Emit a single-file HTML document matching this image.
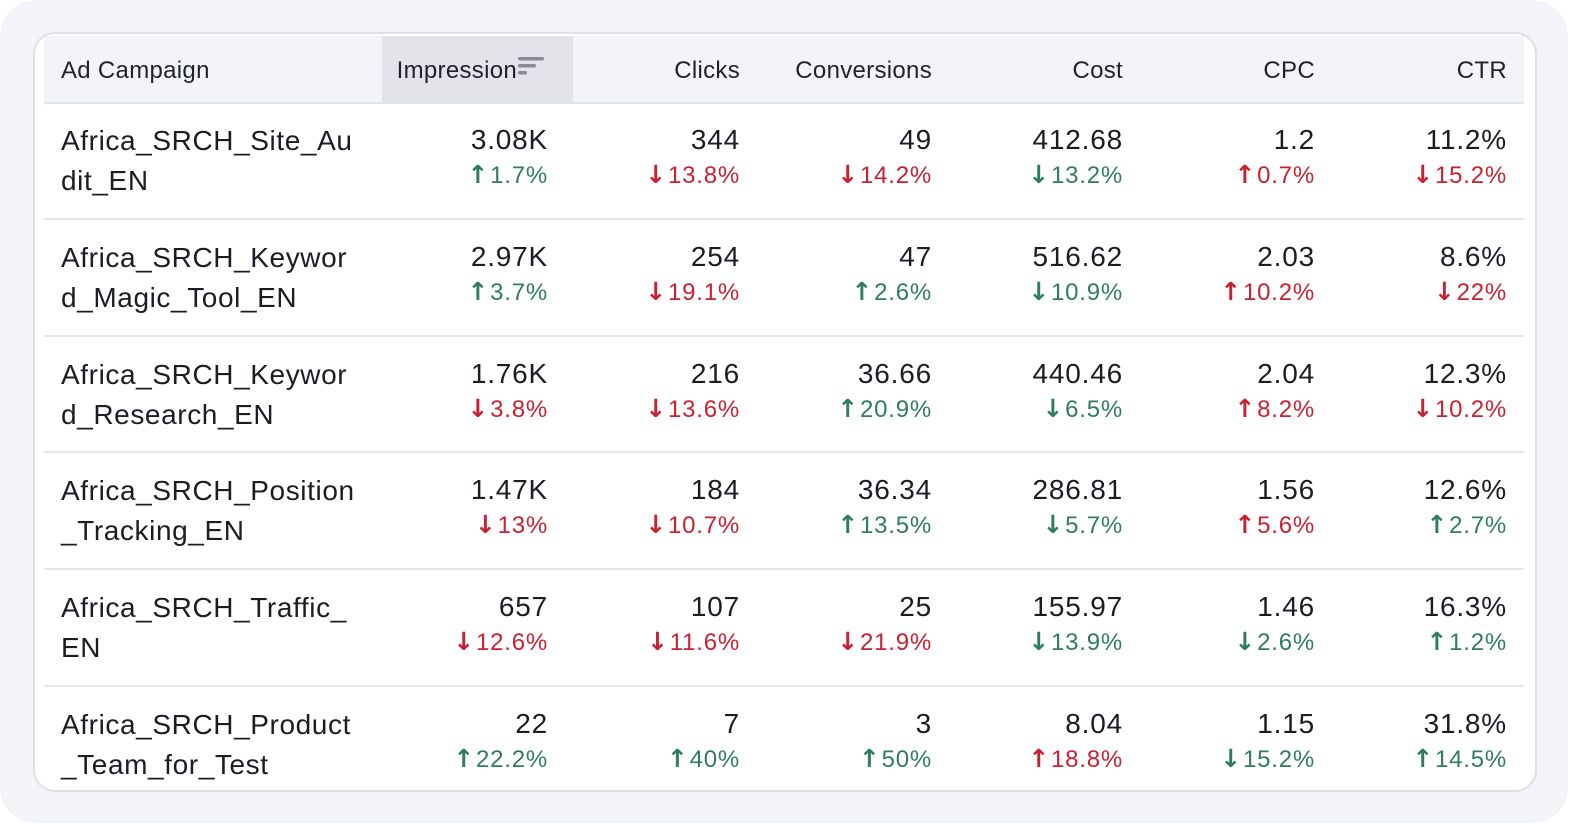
<!DOCTYPE html>
<html><head><meta charset="utf-8"><style>
html,body{margin:0;padding:0;background:#fff;}
body{width:1592px;height:836px;position:relative;overflow:hidden;font-family:"Liberation Sans",sans-serif;}
#outer{position:absolute;left:0;top:0;width:1568px;height:823px;background:#f3f4f7;border-radius:36px;}
#card{position:absolute;left:33px;top:32px;width:1500px;height:756px;background:#fff;border:2px solid #dfe0e6;border-radius:22px;overflow:hidden;}
#hdr{position:absolute;left:9px;top:2px;width:1480px;height:66px;background:#f3f4f8;border-bottom:2px solid #e4e5ea;}
#hl{position:absolute;left:338px;top:0;width:191px;height:66px;background:#e3e4ea;}
.h{position:absolute;top:21px;font-size:24px;color:#1f2228;white-space:nowrap;letter-spacing:0.3px;}
.sep{position:absolute;left:9px;width:1480px;height:2px;background:#e4e5ea;}
.c{position:absolute;font-size:28px;color:#1a1d23;white-space:nowrap;letter-spacing:0.6px;line-height:40px;}
.v{position:absolute;font-size:28px;color:#1a1d23;white-space:nowrap;letter-spacing:0.8px;text-align:right;}
.d{position:absolute;font-size:24px;white-space:nowrap;letter-spacing:0.8px;text-align:right;}
.d .ar{font-family:"DejaVu Sans",sans-serif;font-size:25px;font-weight:bold;margin-right:1px;}
.up-g,.dn-g{color:#2f7d5e}.up-r,.dn-r{color:#c72231}
</style></head><body>
<div id="outer"></div>
<div id="card">
<div id="hdr">
<div id="hl"></div>
</div>
</div>
<script>
const headers=["Ad Campaign","Impression","Clicks","Conversions","Cost","CPC","CTR"];
const campaigns=[["Africa_SRCH_Site_Au","dit_EN"],["Africa_SRCH_Keywor","d_Magic_Tool_EN"],["Africa_SRCH_Keywor","d_Research_EN"],["Africa_SRCH_Position","_Tracking_EN"],["Africa_SRCH_Traffic_","EN"],["Africa_SRCH_Product","_Team_for_Test"]];
const impressions=["3.08K","2.97K","1.76K","1.47K","657","22"];
const clicks=["344","254","216","184","107","7"];
const conversions=["49","47","36.66","36.34","25","3"];
const cost=["412.68","516.62","440.46","286.81","155.97","8.04"];
const cpc=["1.2","2.03","2.04","1.56","1.46","1.15"];
const ctr=["11.2%","8.6%","12.3%","12.6%","16.3%","31.8%"];
const dImp=[["u","1.7%","g"],["u","3.7%","g"],["d","3.8%","r"],["d","13%","r"],["d","12.6%","r"],["u","22.2%","g"]];
const dClk=[["d","13.8%","r"],["d","19.1%","r"],["d","13.6%","r"],["d","10.7%","r"],["d","11.6%","r"],["u","40%","g"]];
const dConv=[["d","14.2%","r"],["u","2.6%","g"],["u","20.9%","g"],["u","13.5%","g"],["d","21.9%","r"],["u","50%","g"]];
const dCost=[["d","13.2%","g"],["d","10.9%","g"],["d","6.5%","g"],["d","5.7%","g"],["d","13.9%","g"],["u","18.8%","r"]];
const dCpc=[["u","0.7%","r"],["u","10.2%","r"],["u","8.2%","r"],["u","5.6%","r"],["d","2.6%","g"],["d","15.2%","g"]];
const dCtr=[["d","15.2%","r"],["d","22%","r"],["d","10.2%","r"],["u","2.7%","g"],["u","1.2%","g"],["u","14.5%","g"]];
const card=document.getElementById('card');
const hdr=document.getElementById('hdr');
const colRight=[513,705,897,1088,1280,1472];
const keys=["impressions","clicks","conversions","cost","cpc","ctr"];
headers.forEach((h,i)=>{
  const e=document.createElement('div');e.className='h';e.textContent=h;
  
  
  if(i==0){e.style.left='17px';}else{
    const r=colRight[i-1]-9-(i==1?31:0);
    e.style.right=(1480-r)+'px';}
  hdr.appendChild(e);
});
const s=document.createElementNS('http://www.w3.org/2000/svg','svg');


s.setAttribute('width','28');s.setAttribute('height','20');
s.style.cssText='position:absolute;left:474px;top:20px';
s.innerHTML='<rect x="0" y="1" width="26" height="3.5" rx="1.7" fill="#8a8c93"/><rect x="0" y="8" width="18" height="3.5" rx="1.7" fill="#8a8c93"/><rect x="0" y="15" width="9" height="3.5" rx="1.7" fill="#8a8c93"/>';
hdr.appendChild(s);
const vals=[impressions,clicks,conversions,cost,cpc,ctr];
const dels=[dImp,dClk,dConv,dCost,dCpc,dCtr];
const rowH=116.8, top0=68;
campaigns.forEach((c,r)=>{
  const y=top0+r*rowH;
  if(r>0){const sp=document.createElement('div');sp.className='sep';sp.style.top=(y-1)+'px';
    
    
    card.appendChild(sp);}
  const ce=document.createElement('div');ce.className='c';ce.innerHTML=c[0]+'<br>'+c[1];
  ce.style.left='26px';ce.style.top=(y+19)+'px';
  
  
  card.appendChild(ce);
  vals.forEach((arr,k)=>{
    const v=document.createElement('div');v.className='v';v.textContent=arr[r];
    v.style.right=(1500-colRight[k])+'px';v.style.top=(y+22)+'px';
    
    
    card.appendChild(v);
    const dd=dels[k][r];
    const d=document.createElement('div');d.className='d '+(dd[0]=='u'?'up-':'dn-')+dd[2];
    d.innerHTML='<span class="ar">'+(dd[0]=='u'?'\u2191':'\u2193')+'</span>'+dd[1];
    d.style.right=(1500-colRight[k])+'px';d.style.top=(y+58)+'px';
    
    
    card.appendChild(d);
  });
});
</script>
</body></html>
